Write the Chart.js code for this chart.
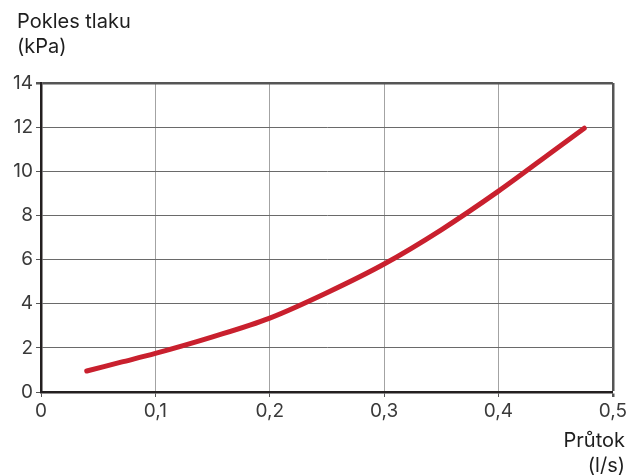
<!DOCTYPE html>
<html>
<head>
<meta charset="utf-8">
<script src="https://cdn.jsdelivr.net/npm/chart.js@4"></script>
<style>
  html, body { margin: 0; padding: 0; background: #fff; }
  #wrap { position: relative; width: 630px; height: 476px; }
  .lbl { position: absolute; font-family: Inter, sans-serif; font-size: 20px; color: #1e1e1e; line-height: 25px; }
  #ytitle { left: 17px; top: 9px; }
  #xtitle { right: 5px; top: 428px; text-align: right; }
</style>
</head>
<body>
<div id="wrap">
  <canvas id="js-canvas-pressure" width="630" height="476"></canvas>
  <div class="lbl" id="ytitle">Pokles tlaku<br>(kPa)</div>
  <div class="lbl" id="xtitle">Průtok<br>(l/s)</div>
</div>
<script>
// flow (l/s) and pressure drop (kPa)
const flow = [0.04, 0.07, 0.1, 0.15, 0.2, 0.25, 0.3, 0.35, 0.4, 0.45, 0.475];
const pressureDrop = [0.95, 1.35, 1.75, 2.5, 3.35, 4.5, 5.8, 7.35, 9.1, 11.0, 11.95];

const fmt = v => String(Math.round(v * 10) / 10).replace('.', ',');

const ctx = document.getElementById('js-canvas-pressure');
new Chart(ctx, {
  type: 'line',
  data: {
    datasets: [{
      data: flow.map((x, i) => ({ x: x, y: pressureDrop[i] })),
      borderColor: '#c9202e',
      borderWidth: 5,
      borderCapStyle: 'round',
      borderJoinStyle: 'round',
      pointRadius: 0,
      cubicInterpolationMode: 'monotone',
      fill: false
    }]
  },
  options: {
    responsive: false,
    animation: false,
    layout: { padding: { left: 0, top: 83, right: 16, bottom: 0 } },
    plugins: { legend: { display: false }, tooltip: { enabled: false } },
    scales: {
      x: {
        type: 'linear',
        min: 0,
        max: 0.5,
        afterFit: s => { s.height = 84; },
        ticks: {
          stepSize: 0.1,
          callback: v => fmt(v),
          font: { family: 'Inter', size: 19 },
          color: '#3a3a3a',
          padding: 3
        },
        grid: {
          color: c => c.tick && c.tick.value === 0.5 ? '#555' : '#a3a3a3',
          lineWidth: c => c.tick && c.tick.value === 0.5 ? 2.5 : 1,
          tickColor: '#555',
          tickLength: 5
        },
        border: { color: '#231f20', width: 2.5 }
      },
      y: {
        min: 0,
        max: 14,
        afterFit: s => { s.width = 41; },
        ticks: {
          stepSize: 2,
          font: { family: 'Inter', size: 19 },
          color: '#3a3a3a',
          padding: 3
        },
        grid: {
          color: c => c.tick && c.tick.value === 14 ? '#555' : '#6a6a6a',
          lineWidth: c => c.tick && c.tick.value === 14 ? 2.5 : 1,
          tickColor: '#555',
          tickLength: 5
        },
        border: { color: '#231f20', width: 2.5 }
      }
    }
  }
});
</script>
</body>
</html>
